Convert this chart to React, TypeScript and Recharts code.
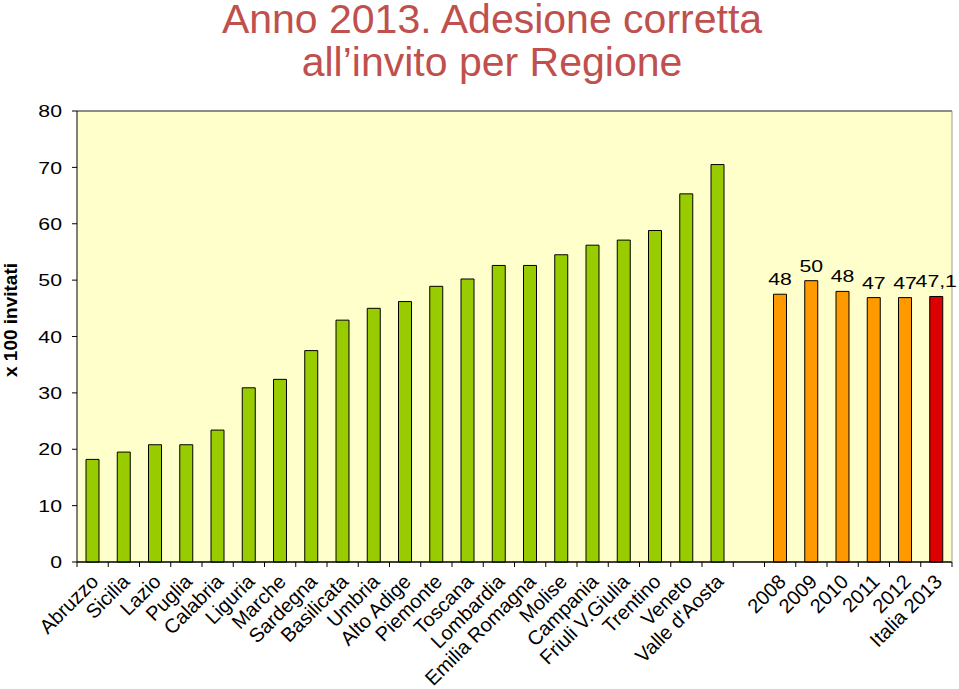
import { BarChart, Bar, XAxis, YAxis, CartesianGrid, Cell, LabelList, ReferenceLine } from "recharts";

const regions = [
  "Abruzzo", "Sicilia", "Lazio", "Puglia", "Calabria", "Liguria", "Marche", "Sardegna",
  "Basilicata", "Umbria", "Alto Adige", "Piemonte", "Toscana", "Lombardia", "Emilia Romagna",
  "Molise", "Campania", "Friuli V.Giulia", "Trentino", "Veneto", "Valle d'Aosta",
];
const regionValues = [
  18.2, 19.5, 20.8, 20.8, 23.4, 30.9, 32.4, 37.5, 42.9, 45.0, 46.2, 48.9, 50.2, 52.6, 52.6,
  54.5, 56.2, 57.1, 58.8, 65.3, 70.5,
];
const years = ["2008", "2009", "2010", "2011", "2012"];
const yearValues = [47.5, 49.9, 48.0, 46.9, 46.9];
const yearLabels = ["48", "50", "48", "47", "47"];
const italyName = "Italia 2013";
const italyValue = 47.1;
const italyLabel = "47,1";
const yTicks = [0, 10, 20, 30, 40, 50, 60, 70, 80];

const GREEN = "#99CC00";
const ORANGE = "#FF9900";
const RED = "#DD0000";

type Row = { key: string; name: string; value: number | null; label: string | null; color: string; bold?: boolean };

const data: Row[] = [
  ...regions.map((r, i) => ({ key: r, name: r, value: regionValues[i], label: null, color: GREEN })),
  { key: "gap", name: "", value: null, label: null, color: GREEN },
  ...years.map((y, i) => ({ key: y, name: y, value: yearValues[i], label: yearLabels[i], color: ORANGE })),
  { key: italyName, name: italyName, value: italyValue, label: italyLabel, color: RED, bold: true },
];

const W = 959;
const H = 689;
const TOP = 111;
const LEFT = 77;
const RIGHT = 7;
const AXIS_Y = 562;
const STEP = (W - LEFT - RIGHT) / data.length;
const SX = 1.25; // numbers in the original look stretched sideways
const FONT = "'Liberation Sans', Arial, sans-serif";

function CategoryTick(props: any) {
  const { x, index, payload } = props;
  const tx = x + 7;
  const ty = AXIS_Y + 21;
  return (
    <g>
      <line x1={x - STEP / 2} x2={x - STEP / 2} y1={AXIS_Y} y2={AXIS_Y + 5} stroke="#000" />
      {index === data.length - 1 && (
        <line x1={x + STEP / 2} x2={x + STEP / 2} y1={AXIS_Y} y2={AXIS_Y + 5} stroke="#000" />
      )}
      {payload.value && (
        <text x={tx} y={ty} transform={`rotate(-45 ${tx} ${ty})`} textAnchor="end" fontSize={20} fill="#000" fontFamily={FONT}>
          {payload.value}
        </text>
      )}
    </g>
  );
}

function ValueTick(props: any) {
  const { x, y, payload } = props;
  return (
    <text transform={`translate(${x} ${y}) scale(${SX} 1)`} dy="0.36em" textAnchor="end" fontSize={17} fill="#000" fontFamily={FONT}>
      {payload.value}
    </text>
  );
}

function BarValue(props: any) {
  const { x, y, width, value, index } = props;
  if (!value) return null;
  const row = data[index];
  const cx = x + width / 2;
  if (row && row.bold) {
    return (
      <text transform={`translate(${cx - 13} ${y - 25}) scale(${SX} 1)`} fontSize={17} fontWeight="bold" fill="#000" fontFamily={FONT}>
        {value}
      </text>
    );
  }
  return (
    <text transform={`translate(${cx} ${y - 9}) scale(${SX} 1)`} textAnchor="middle" fontSize={17} fill="#000" fontFamily={FONT}>
      {value}
    </text>
  );
}

export default function App() {
  const titleStyle = {
    position: "absolute" as const, left: 25, width: 934, textAlign: "center" as const,
    fontSize: 41, lineHeight: "30px", color: "#C0504D", whiteSpace: "nowrap" as const,
  };
  return (
    <div style={{ position: "relative", width: W, height: H, background: "#fff", fontFamily: FONT, overflow: "hidden" }}>
      <style>{`body{margin:0}`}</style>
      <div style={{ ...titleStyle, top: 4 }}>Anno 2013. Adesione corretta</div>
      <div style={{ ...titleStyle, top: 47 }}>all’invito per Regione</div>
      <div
        style={{
          position: "absolute", left: 11, top: 320, transform: "translate(-50%, -50%) rotate(-90deg)",
          whiteSpace: "nowrap", fontSize: 19, fontWeight: "bold", color: "#000",
        }}
      >
        x 100 invitati
      </div>
      <div style={{ position: "absolute", left: 0, top: 0 }}>
        <BarChart width={W} height={H} data={data} margin={{ top: TOP, right: 0, bottom: 0, left: 0 }} barSize={13}>
          <CartesianGrid vertical={false} stroke="#000" strokeOpacity={1} fill="#FFFFCC" fillOpacity={1} />
          <XAxis
            dataKey="name"
            interval={0}
            height={H - AXIS_Y}
            tickLine={false}
            axisLine={{ stroke: "#000" }}
            tick={<CategoryTick />}
          />
          <YAxis
            yAxisId="l"
            width={LEFT}
            domain={[0, 80]}
            ticks={yTicks}
            interval={0}
            tickSize={5}
            tickMargin={10}
            axisLine={{ stroke: "#000" }}
            tickLine={{ stroke: "#000" }}
            tick={<ValueTick />}
          />
          <YAxis
            yAxisId="r"
            orientation="right"
            width={RIGHT}
            domain={[0, 80]}
            tick={false}
            tickLine={false}
            axisLine={{ stroke: "#999" }}
          />
          <ReferenceLine yAxisId="l" y={80} stroke="#999" />
          <Bar yAxisId="l" dataKey="value" stroke="#000" strokeWidth={1} isAnimationActive={false}>
            {data.map((d) => (
              <Cell key={d.key} fill={d.color} />
            ))}
            <LabelList dataKey="label" content={<BarValue />} />
          </Bar>
        </BarChart>
      </div>
    </div>
  );
}
